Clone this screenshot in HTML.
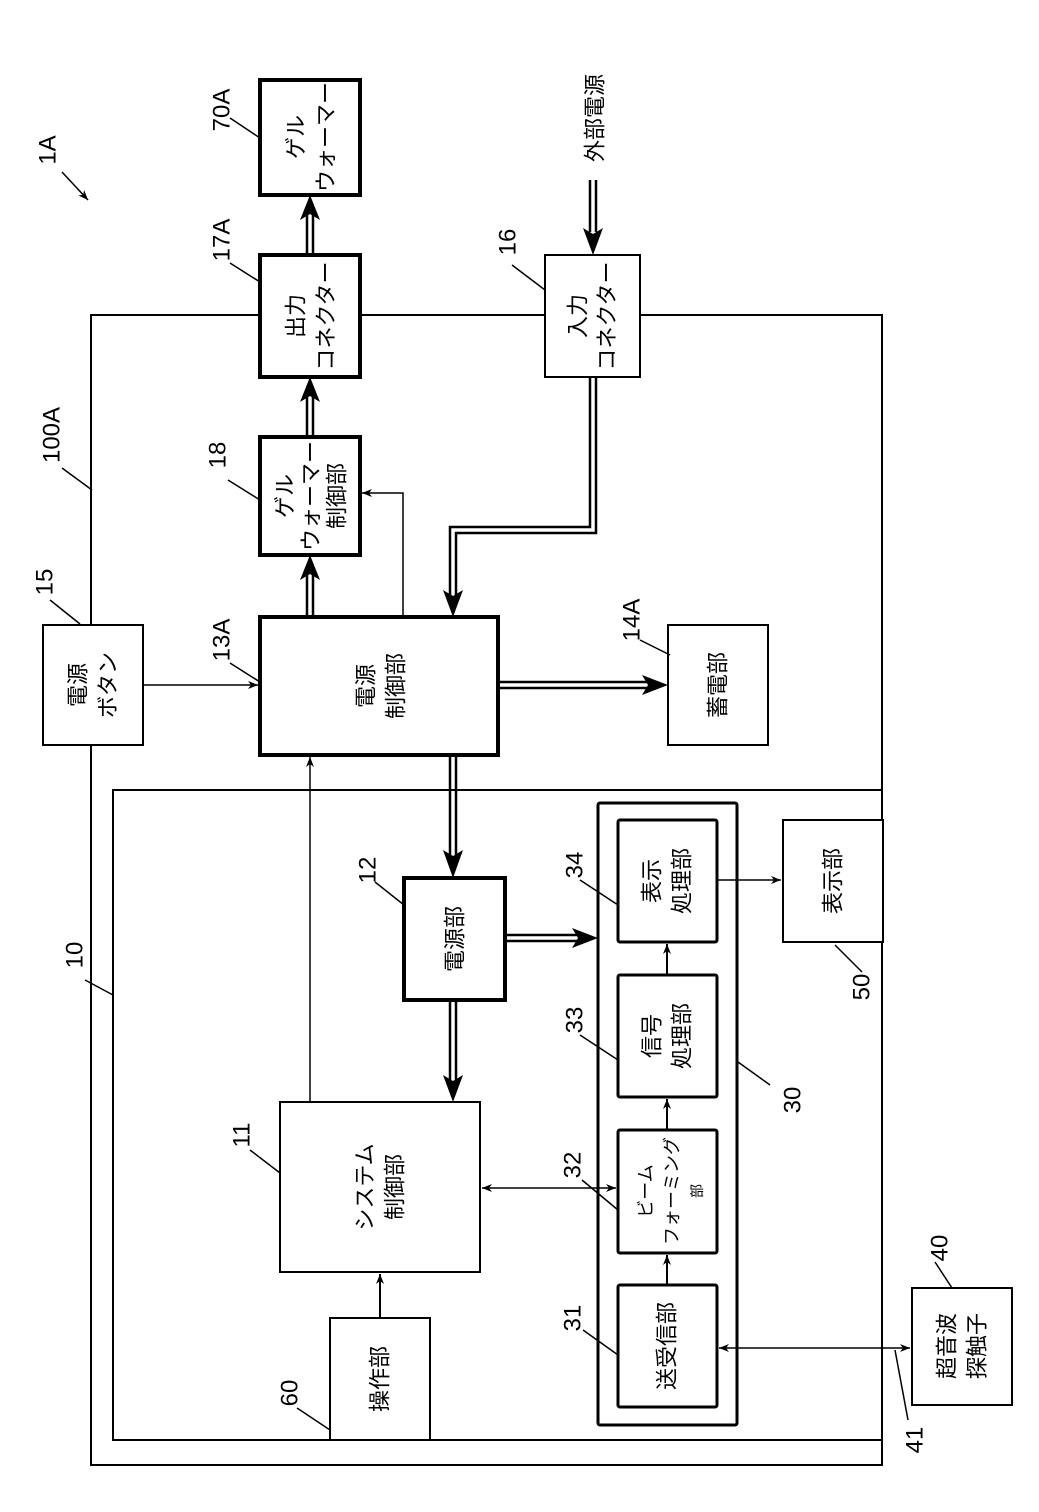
<!DOCTYPE html>
<html><head><meta charset="utf-8"><style>
html,body{margin:0;padding:0;background:#fff}
svg{display:block}
text{font-family:"Liberation Sans","Noto Sans CJK JP",sans-serif;fill:#000}
</style></head><body>
<svg width="1039" height="1512" viewBox="0 0 1039 1512" xmlns="http://www.w3.org/2000/svg">
<defs>
<marker id="a" markerWidth="10" markerHeight="8" refX="10" refY="4" orient="auto" markerUnits="userSpaceOnUse"><path d="M0,0 L10,4 L0,8 L3,4 z" fill="#000"/></marker>
<marker id="as" markerWidth="10" markerHeight="8" refX="0" refY="4" orient="auto" markerUnits="userSpaceOnUse"><path d="M10,0 L0,4 L10,8 L7,4 z" fill="#000"/></marker>
</defs>
<g fill="none" stroke="#000">
<rect x="91" y="315" width="791" height="1150" stroke-width="2"/>
<rect x="113" y="790" width="769" height="650" stroke-width="2"/>
<g stroke-width="4" fill="#fff">
<rect x="260" y="80" width="100" height="115"/>
<rect x="260" y="255" width="100" height="122"/>
<rect x="260" y="437" width="100" height="118"/>
<rect x="260" y="617" width="238" height="138"/>
<rect x="404" y="878" width="101" height="122"/>
</g>
<g stroke-width="2" fill="#fff">
<rect x="545" y="255" width="95" height="122"/>
<rect x="43" y="625" width="100" height="120"/>
<rect x="668" y="625" width="100" height="120"/>
<rect x="280" y="1102" width="200" height="170"/>
<rect x="330" y="1318" width="100" height="122"/>
<rect x="783" y="820" width="100" height="122"/>
<rect x="912" y="1288" width="100" height="117"/>
</g>
<rect x="598" y="803" width="139" height="622" stroke-width="3" rx="2"/>
<g stroke-width="3" fill="#fff">
<rect x="618" y="820" width="99" height="122" rx="2"/>
<rect x="618" y="975" width="99" height="122" rx="2"/>
<rect x="618" y="1130" width="99" height="123" rx="2"/>
<rect x="618" y="1285" width="99" height="122" rx="2"/>
</g>
<g stroke-width="2.5">
<path d="M307,255 V215 M313,255 V215"/>
<path d="M307,437 V397 M313,437 V397"/>
<path d="M307,617 V575 M313,617 V575"/>
<path d="M590,180 V232 M596,180 V232"/>
<path d="M596,377 V533 H456 V595 M590,377 V527 H450 V595"/>
<path d="M498,682 H648 M498,688 H648"/>
<path d="M450,755 V855 M456,755 V855"/>
<path d="M505,935 H578 M505,941 H578"/>
<path d="M450,1000 V1080 M456,1000 V1080"/>
</g>
<g stroke-width="1.5">
<path d="M403,617 V493 H362" marker-end="url(#a)"/>
<path d="M143,685 H258" marker-end="url(#a)"/>
<path d="M310,1102 V757" marker-end="url(#a)"/>
<path d="M482,1188 H616" marker-end="url(#a)" marker-start="url(#as)"/>
<path d="M380,1318 V1274" marker-end="url(#a)" stroke-width="2"/>
<path d="M667,1285 V1255" marker-end="url(#a)" stroke-width="2"/>
<path d="M667,1130 V1099" marker-end="url(#a)" stroke-width="2"/>
<path d="M667,975 V944" marker-end="url(#a)" stroke-width="2"/>
<path d="M717,880 H781" marker-end="url(#a)"/>
<path d="M719,1348 H910" marker-end="url(#a)" marker-start="url(#as)"/>
<path d="M62,172 L88,200" marker-end="url(#a)"/>
<path d="M230,118 L260,138"/>
<path d="M230,263 L260,282"/>
<path d="M512,265 L545,290"/>
<path d="M62,468 L92,490"/>
<path d="M228,480 L260,500"/>
<path d="M50,600 L80,624"/>
<path d="M230,663 L260,682"/>
<path d="M640,640 L670,655"/>
<path d="M375,882 L404,905"/>
<path d="M580,880 L618,905"/>
<path d="M580,1035 L618,1060"/>
<path d="M582,1180 L618,1210"/>
<path d="M583,1330 L618,1355"/>
<path d="M85,980 L113,995"/>
<path d="M250,1150 L280,1173"/>
<path d="M297,1408 L330,1430"/>
<path d="M835,945 L862,972"/>
<path d="M738,1062 L770,1085"/>
<path d="M935,1262 L952,1288"/>
<path d="M895,1350 L908,1420"/>
</g>
</g>
<g fill="#000">
<path d="M300,220 L310,195 L320,220 L310,214 z"/>
<path d="M300,402 L310,377 L320,402 L310,396 z"/>
<path d="M300,580 L310,555 L320,580 L310,574 z"/>
<path d="M583,228 L593,255 L603,228 L593,234 z"/>
<path d="M443,590 L453,617 L463,590 L453,596 z"/>
<path d="M642,675 L668,685 L642,695 L648,685 z"/>
<path d="M443,850 L453,878 L463,850 L453,856 z"/>
<path d="M572,928 L598,938 L572,948 L578,938 z"/>
<path d="M443,1075 L453,1102 L463,1075 L453,1081 z"/>
</g>
<g font-size="22" text-anchor="middle" dominant-baseline="central">
<text transform="translate(296,137) rotate(-90)">ゲル</text>
<text transform="translate(326,137) rotate(-90)">ウォーマー</text>
<text transform="translate(296,316) rotate(-90)">出力</text>
<text transform="translate(326,316) rotate(-90)">コネクター</text>
<text transform="translate(578,316) rotate(-90)">入力</text>
<text transform="translate(607,316) rotate(-90)">コネクター</text>
<text transform="translate(285,496) rotate(-90)">ゲル</text>
<text transform="translate(311,496) rotate(-90)">ウォーマー</text>
<text transform="translate(337,496) rotate(-90)">制御部</text>
<text transform="translate(595,118) rotate(-90)">外部電源</text>
<text transform="translate(78,685) rotate(-90)">電源</text>
<text transform="translate(108,685) rotate(-90)">ボタン</text>
<text transform="translate(366,686) rotate(-90)">電源</text>
<text transform="translate(396,686) rotate(-90)">制御部</text>
<text transform="translate(718,685) rotate(-90)">蓄電部</text>
<text transform="translate(455,939) rotate(-90)">電源部</text>
<text transform="translate(365,1187) rotate(-90)">システム</text>
<text transform="translate(395,1187) rotate(-90)">制御部</text>
<text transform="translate(380,1379) rotate(-90)">操作部</text>
<text transform="translate(652,881) rotate(-90)">表示</text>
<text transform="translate(682,881) rotate(-90)">処理部</text>
<text transform="translate(652,1036) rotate(-90)">信号</text>
<text transform="translate(682,1036) rotate(-90)">処理部</text>
<text transform="translate(646,1191) rotate(-90)" font-size="18">ビーム</text>
<text transform="translate(672,1191) rotate(-90)" font-size="18">フォーミング</text>
<text transform="translate(697,1191) rotate(-90)" font-size="14">部</text>
<text transform="translate(667,1346) rotate(-90)">送受信部</text>
<text transform="translate(833,881) rotate(-90)">表示部</text>
<text transform="translate(947,1346) rotate(-90)">超音波</text>
<text transform="translate(977,1346) rotate(-90)">探触子</text>
</g>
<g font-size="24" text-anchor="middle" dominant-baseline="central">
<text transform="translate(48,150) rotate(-90)">1A</text>
<text transform="translate(222,110) rotate(-90)">70A</text>
<text transform="translate(222,240) rotate(-90)">17A</text>
<text transform="translate(508,242) rotate(-90)">16</text>
<text transform="translate(52,435) rotate(-90)">100A</text>
<text transform="translate(218,455) rotate(-90)">18</text>
<text transform="translate(45,582) rotate(-90)">15</text>
<text transform="translate(222,640) rotate(-90)">13A</text>
<text transform="translate(632,620) rotate(-90)">14A</text>
<text transform="translate(368,870) rotate(-90)">12</text>
<text transform="translate(575,865) rotate(-90)">34</text>
<text transform="translate(575,1020) rotate(-90)">33</text>
<text transform="translate(573,1165) rotate(-90)">32</text>
<text transform="translate(573,1318) rotate(-90)">31</text>
<text transform="translate(75,955) rotate(-90)">10</text>
<text transform="translate(242,1135) rotate(-90)">11</text>
<text transform="translate(290,1393) rotate(-90)">60</text>
<text transform="translate(862,987) rotate(-90)">50</text>
<text transform="translate(793,1100) rotate(-90)">30</text>
<text transform="translate(940,1248) rotate(-90)">40</text>
<text transform="translate(915,1440) rotate(-90)">41</text>
</g>
</svg>
</body></html>
